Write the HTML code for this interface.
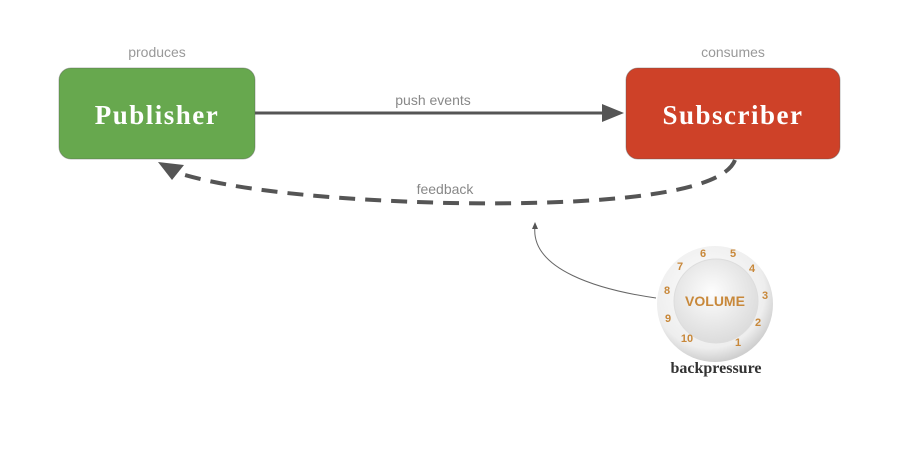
<!DOCTYPE html>
<html><head><style>
body{margin:0;width:917px;height:464px;background:#fff;overflow:hidden;font-family:"Liberation Sans",sans-serif}
</style></head><body>
<svg width="917" height="464" xmlns="http://www.w3.org/2000/svg">
<defs>
<radialGradient id="k" cx="45%" cy="40%" r="60%"><stop offset="0" stop-color="#ffffff"/><stop offset="0.8" stop-color="#eeeeee"/><stop offset="1" stop-color="#cfcfcf"/></radialGradient>
<radialGradient id="k2" cx="45%" cy="40%" r="60%"><stop offset="0" stop-color="#fdfdfd"/><stop offset="1" stop-color="#dcdcdc"/></radialGradient>
</defs>
<text x="157" y="57" font-size="14" fill="#999" text-anchor="middle">produces</text>
<text x="733" y="57" font-size="14" fill="#999" text-anchor="middle">consumes</text>
<rect x="59" y="68" width="196" height="91" rx="12" fill="#67a84e" stroke="#555" stroke-opacity="0.4"/>
<text x="157" y="124" font-size="27" font-weight="bold" fill="#fff" text-anchor="middle" font-family="Liberation Serif,serif" letter-spacing="1.5">Publisher</text>
<rect x="626" y="68" width="214" height="91" rx="12" fill="#ce4128" stroke="#555" stroke-opacity="0.4"/>
<text x="733" y="124" font-size="27" font-weight="bold" fill="#fff" text-anchor="middle" font-family="Liberation Serif,serif" letter-spacing="1.5">Subscriber</text>
<line x1="255" y1="113" x2="606" y2="113" stroke="#555" stroke-width="3"/>
<polygon points="624,113 602,104 602,122" fill="#555"/>
<text x="433" y="105" font-size="14" fill="#888" text-anchor="middle">push events</text>
<path d="M735 160 C720 200 560 205 450 203 C330 200 230 190 175 172" fill="none" stroke="#555" stroke-width="4" stroke-dasharray="16,10"/>
<polygon points="158,162 184,165 172,180" fill="#555"/>
<text x="445" y="194" font-size="14" fill="#888" text-anchor="middle">feedback</text>
<path d="M656 298 C600 290 530 270 535 226" fill="none" stroke="#666" stroke-width="1"/>
<polygon points="535,222 532,229 538,229" fill="#555"/>
<circle cx="715" cy="304" r="58" fill="url(#k)"/>
<circle cx="716" cy="301" r="42" fill="url(#k2)" stroke="#ddd"/>
<text x="715" y="306" font-size="14" font-weight="bold" fill="#c8883a" text-anchor="middle">VOLUME</text>
<g font-size="11" font-weight="bold" fill="#c8883a" text-anchor="middle">
<text x="703" y="257">6</text><text x="733" y="257">5</text><text x="752" y="272">4</text><text x="765" y="299">3</text><text x="758" y="326">2</text><text x="738" y="346">1</text><text x="687" y="342">10</text><text x="668" y="322">9</text><text x="667" y="294">8</text><text x="680" y="270">7</text>
</g>
<text x="716" y="373" font-size="16" font-weight="bold" fill="#333" text-anchor="middle" font-family="Liberation Serif,serif">backpressure</text>
</svg>
</body></html>
